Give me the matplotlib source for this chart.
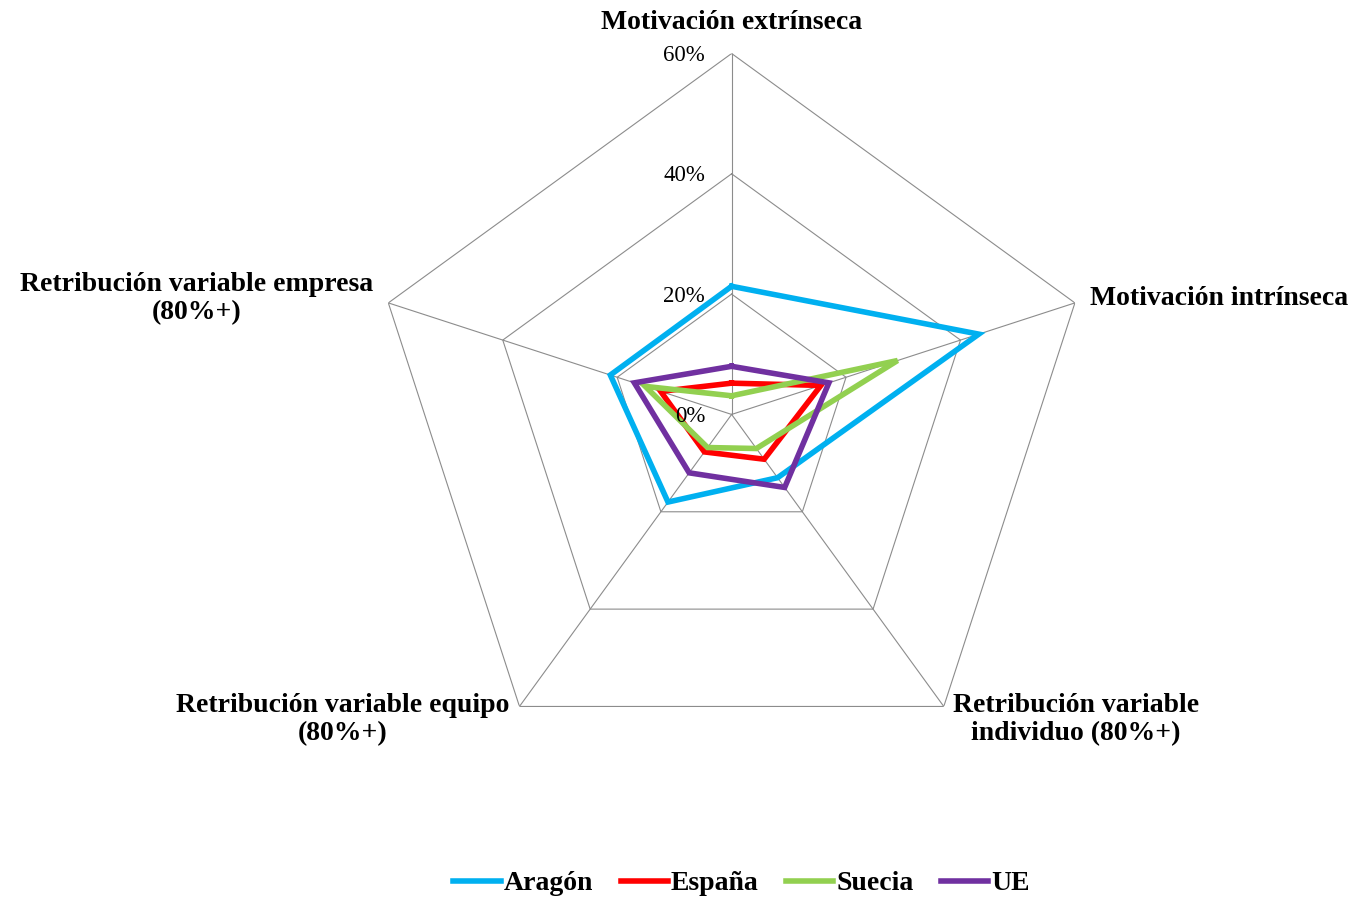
import matplotlib.pyplot as plt
import numpy as np

plt.rcParams['font.family'] = ['Liberation Serif', 'DejaVu Serif']

categorias = ['Motivación extrínseca', 'Motivación intrínseca',
              'Retribución variable\nindividuo (80%+)',
              'Retribución variable equipo\n(80%+)',
              'Retribución variable empresa\n(80%+)']
series = ['Aragón', 'España', 'Suecia', 'UE']
aragon = [21.3, 43.2, 13.0, 18.0, 21.2]
espana = [5.2, 15.6, 9.2, 7.7, 12.4]
suecia = [3.1, 29.0, 7.0, 6.8, 15.1]
ue = [8.0, 17.0, 15.0, 12.0, 17.0]
valores = [aragon, espana, suecia, ue]
colores = ['#00B0F0', '#FF0000', '#92D050', '#7030A0']
ticks = [0, 20, 40, 60]
tick_labels = ['0%', '20%', '40%', '60%']

n = len(categorias)
ang = np.linspace(0, 2 * np.pi, n, endpoint=False)
ang_c = np.append(ang, ang[0])

fig = plt.figure(figsize=(13.58, 8.99), dpi=100)
ax = fig.add_axes([0.2729, 0.1375, 0.5317, 0.803], projection='polar')
ax.set_theta_offset(np.pi / 2)
ax.set_theta_direction(-1)
ax.set_ylim(0, 60)
ax.grid(False)
ax.set_xticks([])
ax.set_yticks([])
ax.spines['polar'].set_visible(False)

# rejilla pentagonal
gris = '#8c8c8c'
for t in ticks[1:]:
    ax.plot(ang_c, [t] * (n + 1), color=gris, lw=0.8, zorder=1)
for a in ang:
    ax.plot([a, a], [0, 60], color=gris, lw=0.8, zorder=1)

for t, lab in zip(ticks, tick_labels):
    ax.annotate(lab, xy=(0, t), xytext=(-19, -1.5), textcoords='offset points',
                ha='right', va='center', fontsize=16.5, zorder=5)

for nombre, vals, c in zip(series, valores, colores):
    ax.plot(ang_c, vals + vals[:1], color=c, lw=4.0, label=nombre,
            solid_joinstyle='miter', zorder=3)

# etiquetas de categorias
offs = [((0, 22), 'center', 'center'),
        ((11, 3), 'left', 'center'),
        ((6.5, -9.5), 'left', 'center'),
        ((-7, -9.5), 'right', 'center'),
        ((-11, 3), 'right', 'center')]
for a, lab, (xy, ha, va) in zip(ang, categorias, offs):
    ax.annotate(lab, xy=(a, 60), xytext=xy, textcoords='offset points',
                ha=ha, va=va, multialignment='center', fontsize=20,
                fontweight='bold', linespacing=1.15, annotation_clip=False)

fig.legend(loc='center', bbox_to_anchor=(0.546, 0.017), ncol=4, frameon=False,
           prop={'size': 20, 'weight': 'bold'}, handlelength=1.7,
           handletextpad=0.1, columnspacing=1.0)

plt.savefig('out.png', dpi=100)
